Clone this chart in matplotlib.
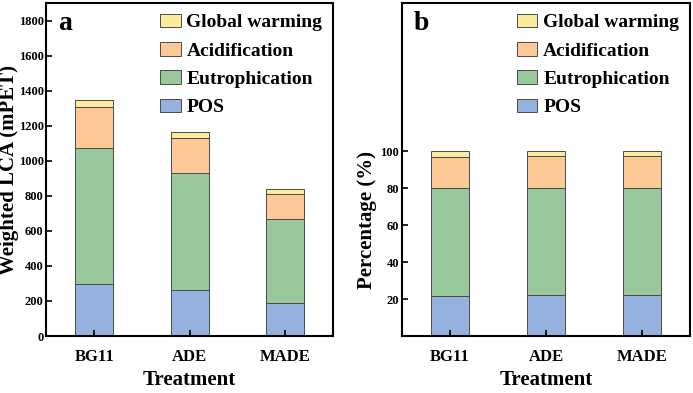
import matplotlib.pyplot as plt

plt.rcParams['font.family'] = ['Liberation Serif', 'DejaVu Serif']
plt.rcParams['font.weight'] = 'bold'
plt.rcParams['axes.labelweight'] = 'bold'

treatments = ['BG11', 'ADE', 'MADE']
categories = ['POS', 'Eutrophication', 'Acidification', 'Global warming']
colors = ['#95b2de', '#98c89c', '#fdc898', '#fdec9c']

# weighted LCA (mPET), one list per category
pos = [296, 260, 186]
eutro = [780, 670, 482]
acid = [229, 201, 145]
gw = [43, 32, 24]

# percentage contribution (%)
pos_pct = [21.9, 22.3, 22.3]
eutro_pct = [57.9, 57.5, 57.5]
acid_pct = [17.2, 17.4, 17.3]
gw_pct = [3.0, 2.8, 2.9]

left_ticks = [0, 200, 400, 600, 800, 1000, 1200, 1400, 1600, 1800]
right_ticks = [20, 40, 60, 80, 100]


def stacked(ax, series):
    x = range(len(treatments))
    bottom = [0] * len(treatments)
    for vals, col, name in zip(series, colors, categories):
        ax.bar(x, vals, 0.4, bottom=bottom, color=col, edgecolor='#4a4a4a',
               linewidth=0.7, label=name)
        bottom = [b + v for b, v in zip(bottom, vals)]
    ax.set_xlim(-0.5, 2.5)
    ax.set_xticks(list(x))
    ax.set_xticklabels(treatments)
    ax.set_xlabel('Treatment', fontsize=15, labelpad=4)
    ax.tick_params(direction='in', length=4, width=1.2, labelsize=9, pad=2)
    ax.tick_params(axis='x', labelsize=12, pad=9)
    for s in ax.spines.values():
        s.set_linewidth(1.5)
    h, l = ax.get_legend_handles_labels()
    ax.legend(h[::-1], l[::-1], loc='upper right', bbox_to_anchor=(1.0, 1.0),
              frameon=False, fontsize=14, handlelength=1.05, handleheight=0.7,
              labelspacing=0.55, handletextpad=0.3, borderaxespad=0.15)


fig = plt.figure(figsize=(6.93, 3.93), dpi=100)
ax1 = fig.add_axes([0.067, 0.145, 0.4136, 0.847])
ax2 = fig.add_axes([0.580, 0.145, 0.4156, 0.847])

stacked(ax1, [pos, eutro, acid, gw])
ax1.set_ylim(0, 1900)
ax1.set_yticks(left_ticks)
ax1.set_ylabel('Weighted LCA (mPET)', fontsize=15, va='center')
ax1.yaxis.set_label_coords(-0.131, 0.5)
ax1.text(0.04, 0.975, 'a', transform=ax1.transAxes, fontsize=20,
         fontweight='bold', va='top', ha='left')

stacked(ax2, [pos_pct, eutro_pct, acid_pct, gw_pct])
ax2.set_ylim(0, 180)
ax2.set_yticks(right_ticks)
ax2.set_ylabel('Percentage (%)', fontsize=15, va='center')
ax2.yaxis.set_label_coords(-0.12, 0.35)
ax2.text(0.04, 0.975, 'b', transform=ax2.transAxes, fontsize=20,
         fontweight='bold', va='top', ha='left')

fig.savefig('out.png', dpi=100)
